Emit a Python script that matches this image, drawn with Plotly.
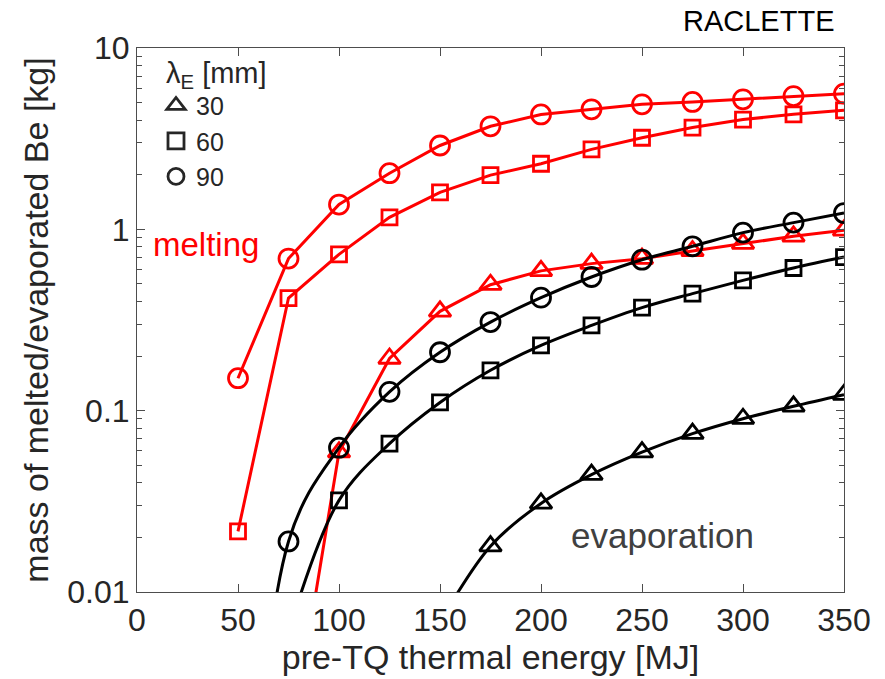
import plotly.graph_objects as go

# ---- data ----
energy_all = [50, 75, 100, 125, 150, 175, 200, 225, 250, 275, 300, 325, 350]

melt_90_x = energy_all
melt_90 = [0.151, 0.69, 1.37, 2.04, 2.9, 3.7, 4.3, 4.59, 4.89, 5.04, 5.21, 5.43, 5.6]

melt_60_x = energy_all
melt_60 = [0.0216, 0.418, 0.728, 1.165, 1.6, 1.99, 2.3, 2.76, 3.2, 3.64, 4.03, 4.31, 4.53]

melt_30_x = energy_all[1:]
melt_30 = [0.0012, 0.059, 0.194, 0.353, 0.495, 0.59, 0.647, 0.689, 0.76, 0.834, 0.915, 0.987]

evap_90_x = energy_all
evap_90 = [0.00002, 0.019, 0.0625, 0.127, 0.21, 0.308, 0.42, 0.546, 0.68, 0.806, 0.959, 1.089, 1.23]

evap_60_x = energy_all[1:]
evap_60 = [0.006, 0.032, 0.0658, 0.111, 0.167, 0.229, 0.295, 0.37, 0.442, 0.523, 0.612, 0.703]

evap_30_x = energy_all[4:]
evap_30 = [0.0068, 0.0179, 0.0308, 0.0444, 0.0591, 0.0747, 0.0903, 0.1057, 0.1225]

x_ticks = [0, 50, 100, 150, 200, 250, 300, 350]
y_ticks = [0.01, 0.1, 1, 10]
y_ticktext = ["0.01", "0.1", "1", "10"]
y_minor_ticks = [0.02, 0.03, 0.04, 0.05, 0.06, 0.07, 0.08, 0.09,
                 0.2, 0.3, 0.4, 0.5, 0.6, 0.7, 0.8, 0.9,
                 2, 3, 4, 5, 6, 7, 8, 9]

legend_labels = ["30", "60", "90"]
legend_symbols = ["triangle-up-open", "square-open", "circle-open"]

RED = "#ff0000"
BLACK = "#000000"
TXT = "#262626"
AX = "#4d4d4d"
FONT = "Liberation Sans, Arial, sans-serif"

fig = go.Figure()

series = [
    (melt_90_x, melt_90, RED, "circle-open", 19, "linear"),
    (melt_60_x, melt_60, RED, "square-open", 15, "linear"),
    (melt_30_x, melt_30, RED, "triangle-up-open", 19, "linear"),
    (evap_90_x, evap_90, BLACK, "circle-open", 19, "spline"),
    (evap_60_x, evap_60, BLACK, "square-open", 15, "spline"),
    (evap_30_x, evap_30, BLACK, "triangle-up-open", 19, "spline"),
]
for xs, ys, col, sym, sz, shp in series:
    fig.add_trace(go.Scatter(
        x=xs, y=ys, mode="lines+markers",
        line=dict(color=col, width=3, shape=shp),
        marker=dict(symbol=sym, size=sz, color=col, line=dict(color=col, width=2.8)),
        showlegend=False, cliponaxis=True,
    ))

# transparent copies on the extra tick axes so that those axes get drawn
for ax_name in ["y2", "y3", "y4"]:
    fig.add_trace(go.Scatter(
        x=melt_90_x, y=melt_90, yaxis=ax_name, mode="markers",
        marker=dict(opacity=0, size=1), showlegend=False, hoverinfo="skip",
    ))

for lab, sym in zip(legend_labels, legend_symbols):
    fig.add_trace(go.Scatter(
        x=[None], y=[None], mode="markers", name=lab,
        marker=dict(symbol=sym, size=16, color=TXT, line=dict(color=TXT, width=2.8)),
    ))

tick_axis = dict(
    type="log", range=[-2, 1], overlaying="y", anchor="x", automargin=False,
    showline=False, showticklabels=False, showgrid=False, zeroline=False,
    tickmode="array", ticks="inside", tickcolor=AX, tickwidth=1,
)

fig.update_layout(
    xaxis=dict(
        range=[0, 350], tickvals=x_ticks, automargin=False,
        showline=True, linecolor=AX, linewidth=1, mirror="ticks",
        ticks="inside", ticklen=8, tickcolor=AX, tickwidth=1,
        showgrid=False, zeroline=False,
        tickfont=dict(family=FONT, size=32, color=TXT),
        title=dict(text="pre-TQ thermal energy [MJ]", font=dict(family=FONT, size=34, color=TXT), standoff=4),
    ),
    yaxis=dict(
        type="log", range=[-2, 1], tickmode="array", tickvals=y_ticks, ticktext=y_ticktext,
        automargin=False,
        showline=True, linecolor=AX, linewidth=1, mirror=True,
        ticks="inside", ticklen=8, tickcolor=AX, tickwidth=1,
        showgrid=False, zeroline=False,
        tickfont=dict(family=FONT, size=32, color=TXT),
        title=dict(text="mass of melted/evaporated Be [kg]", font=dict(family=FONT, size=34, color=TXT), standoff=8),
    ),
    yaxis2=dict(side="left", tickvals=y_minor_ticks, ticklen=5, **tick_axis),
    yaxis3=dict(side="right", tickvals=y_ticks, ticklen=8, **tick_axis),
    yaxis4=dict(side="right", tickvals=y_minor_ticks, ticklen=5, **tick_axis),
)

fig.add_annotation(text="RACLETTE", xref="paper", yref="paper", x=(758 - 137) / 707, y=1 + (48 - 21) / 544,
                   xanchor="center", yanchor="middle", showarrow=False,
                   font=dict(family=FONT, size=29, color="#000000"))
fig.add_annotation(text="melting", xref="paper", yref="paper", x=(151 - 137) / 707, y=(592 - 244) / 544,
                   xanchor="left", yanchor="middle", showarrow=False,
                   font=dict(family=FONT, size=33, color=RED))
fig.add_annotation(text="evaporation", xref="paper", yref="paper", x=(662 - 137) / 707, y=(592 - 535) / 544,
                   xanchor="center", yanchor="middle", showarrow=False,
                   font=dict(family=FONT, size=35, color="#404040"))

fig.update_layout(
    width=885, height=679,
    margin=dict(l=137, r=41, t=48, b=87),
    paper_bgcolor="white", plot_bgcolor="white",
    font=dict(family=FONT, color=TXT),
    legend=dict(
        title=dict(text="\u00a0λ<sub>E</sub> [mm]", font=dict(family=FONT, size=29, color=TXT)),
        x=(156 - 137) / 707, y=(592 - 45) / 544, xanchor="left", yanchor="top",
        bgcolor="rgba(0,0,0,0)", font=dict(family=FONT, size=25, color=TXT),
        itemsizing="trace", tracegroupgap=0,
    ),
)

fig.write_html(
    "out.html",
    config={"displayModeBar": False},
    post_script="document.body.style.margin='0';document.body.style.padding='0';document.body.style.overflow='hidden';",
)
